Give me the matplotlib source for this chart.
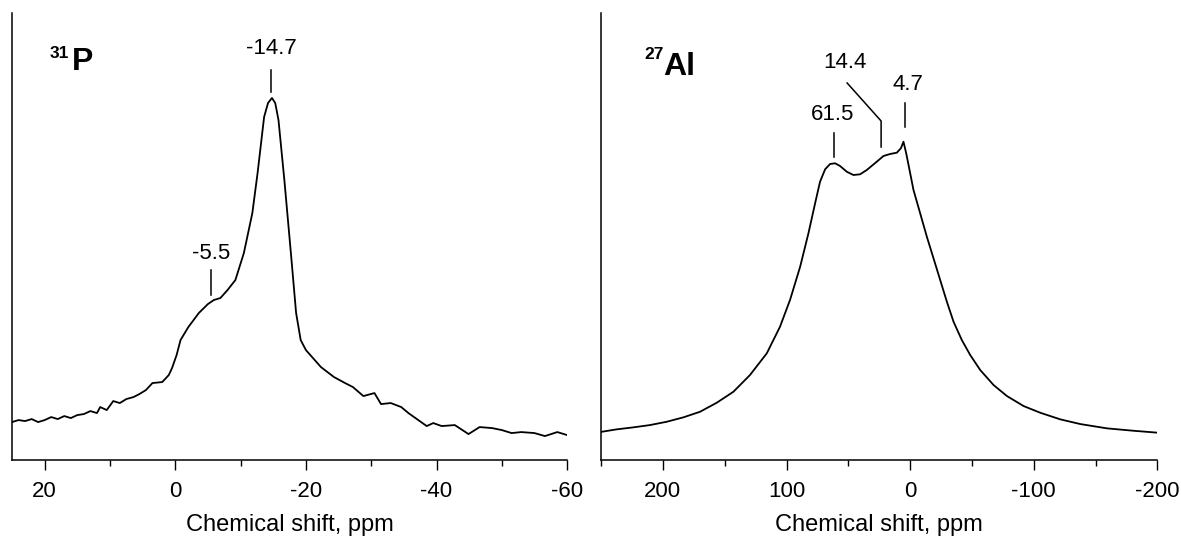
import matplotlib.pyplot as plt
from matplotlib.ticker import MultipleLocator

plt.rcParams['font.family'] = ['Liberation Sans', 'DejaVu Sans']
plt.rcParams['axes.unicode_minus'] = False

# ---------------- 31P spectrum (ppm, intensity a.u.) ----------------
p_shift = [25, 24, 23, 22, 21, 20, 19, 18, 17, 16, 15, 14, 13, 12, 11.5, 10.5,
           9.5, 8.5, 7.5, 6.4, 5.5, 4.5, 3.5, 2.0, 1.0, 0.5, -0.2, -0.8, -2,
           -3.6, -5, -5.9, -6.9, -8, -9.2, -10.5, -11.8, -12.6, -13.6, -14.2,
           -14.8, -15.3, -15.8, -16.7, -17.7, -18.5, -19.2, -20, -22.3, -24.3,
           -26, -27.2, -28.8, -30.5, -31.5, -33, -34.6, -35.7, -38.5, -39.5,
           -40.8, -42.8, -44.9, -46.6, -48.5, -50, -51.5, -53, -55, -56.6,
           -58.5, -60]
p_int = [38, 40, 39, 41, 38, 40, 43, 41, 44, 42, 45, 46, 49, 47, 53, 50,
         59, 57, 61, 63, 66, 70, 77, 78, 85, 92, 105, 120, 133,
         147, 156, 160, 162, 170, 180, 207, 247, 287, 343, 357,
         362, 357, 340, 280, 207, 147, 120, 110, 93, 83,
         77, 73, 64, 67, 56, 57, 53, 47, 34, 37,
         34, 35, 26, 33, 32, 30, 27, 28, 27, 24,
         28, 25]

# ---------------- 27Al spectrum (ppm, intensity a.u.) ----------------
al_shift = [251, 237.5, 224, 210.5, 197, 183.5, 170, 156.5, 143, 129.6, 116,
            105.3, 97.2, 89, 82.3, 76.9, 72.9, 68.8, 64.8, 60.7, 56.7, 51.3,
            45.9, 40.5, 35.1, 27, 21.6, 16.2, 10.8, 7.5, 5.4, 3.2, 0.5, -2.7,
            -8.1, -13.5, -18.9, -24.3, -29.7, -35.1, -41.8, -48.6, -56.7,
            -67.5, -78.3, -91.8, -105.3, -121.5, -137.7, -159.3, -180.8, -201]
al_int = [28, 30.7, 32.7, 35, 38.3, 42.7, 48.3, 57.3, 68.3, 85, 106.7,
          133.3, 160, 193.3, 226.7, 256.7, 278.3, 290.7, 296, 296.7, 294, 288.3,
          285, 285.7, 290, 298.3, 304, 306, 307.3, 311.7, 318.3, 306.7, 290, 270,
          246.7, 223.3, 201.7, 180, 158.3, 138.3, 120, 105, 90,
          75, 64, 54, 47.3, 40.7, 36, 31.7, 29.3, 27.3]

fig = plt.figure(figsize=(11.81, 5.4), dpi=100)
ax1 = fig.add_axes([0.0102, 0.148, 0.470, 0.828])
ax2 = fig.add_axes([0.509, 0.148, 0.471, 0.828])


def style_axis(ax, xlim, major, minor):
    ax.set_xlim(*xlim)
    ax.set_ylim(0, 447)
    for s in ['top', 'right']:
        ax.spines[s].set_visible(False)
    for s in ['left', 'bottom']:
        ax.spines[s].set_linewidth(1.1)
    ax.set_yticks([])
    ax.xaxis.set_major_locator(MultipleLocator(major))
    ax.xaxis.set_minor_locator(MultipleLocator(minor))
    ax.tick_params(axis='x', which='major', direction='out', length=7, width=1.0,
                   labelsize=16, pad=8)
    ax.tick_params(axis='x', which='minor', direction='out', length=4, width=1.0)
    ax.set_xlabel('Chemical shift, ppm', fontsize=17, labelpad=9)


# ================= 31P =================
ax1.plot(p_shift, p_int, color='black', lw=1.3)
style_axis(ax1, (25, -60), 20, 10)
ax1.text(16.2, 402, '31', ha='right', va='baseline', fontsize=12.5,
         fontweight='bold')
ax1.text(15.9, 390, 'P', ha='left', va='baseline', fontsize=23,
         fontweight='bold')

ax1.plot([-14.7, -14.7], [368, 390], color='black', lw=1.1)
ax1.text(-14.7, 411, '-14.7', ha='center', va='center', fontsize=16)
ax1.plot([-5.5, -5.5], [165, 190], color='black', lw=1.1)
ax1.text(-5.5, 207, '-5.5', ha='center', va='center', fontsize=16)

# ================= 27Al =================
ax2.plot(al_shift, al_int, color='black', lw=1.3)
style_axis(ax2, (250, -200), 100, 50)
ax2.text(199.5, 401, '27', ha='right', va='baseline', fontsize=12.5,
         fontweight='bold')
ax2.text(199.5, 385, 'Al', ha='left', va='baseline', fontsize=23,
         fontweight='bold')

ax2.plot([61.5, 61.5], [303, 327], color='black', lw=1.1)
ax2.text(62.5, 345, '61.5', ha='center', va='center', fontsize=16)
ax2.plot([51, 23.5, 23.5], [377, 339, 313], color='black', lw=1.1)
ax2.text(52.5, 397, '14.4', ha='center', va='center', fontsize=16)
ax2.plot([4, 4], [333, 357], color='black', lw=1.1)
ax2.text(1.6, 375, '4.7', ha='center', va='center', fontsize=16)

fig.savefig('out.png', dpi=100)
